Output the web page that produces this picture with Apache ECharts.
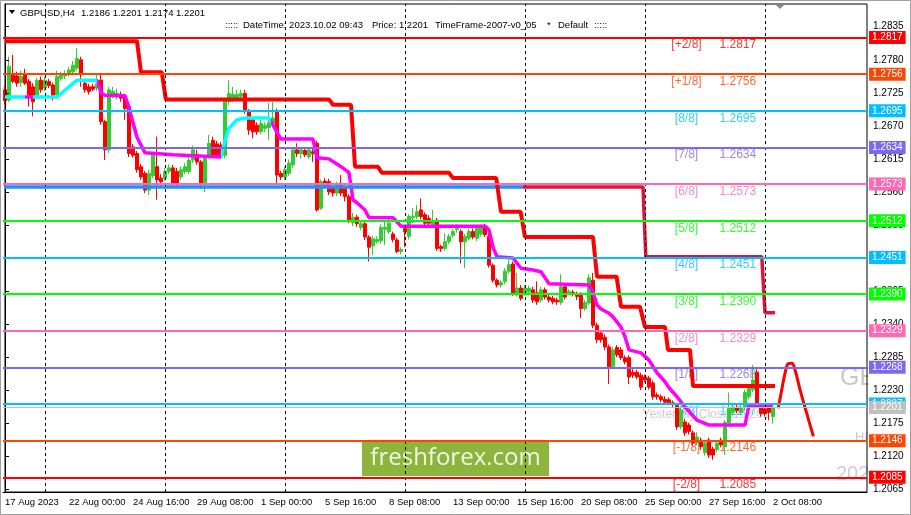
<!DOCTYPE html>
<html><head><meta charset="utf-8">
<script src="https://cdn.jsdelivr.net/npm/echarts@6/dist/echarts.min.js"></script>
<style>html,body{margin:0;padding:0;background:#fff;}#c{width:911px;height:515px;}</style>
</head><body><div id="c"></div>
<script>
// ---------- DATA ----------
const xLabels = ['17 Aug 2023','22 Aug 00:00','24 Aug 16:00','29 Aug 08:00','1 Sep 00:00','5 Sep 16:00','8 Sep 08:00','13 Sep 00:00','15 Sep 16:00','20 Sep 08:00','25 Sep 00:00','27 Sep 16:00','2 Oct 08:00'];
const yTicks = [1.2065,1.2120,1.2175,1.2230,1.2285,1.2340,1.2395,1.2450,1.2505,1.2560,1.2615,1.2670,1.2725,1.2780,1.2835];
// candles: [open, close, low, high]
const candles = [
[1.2730,1.2712,1.2705,1.2737],[1.2713,1.2769,1.2710,1.2785],[1.2757,1.2744,1.2741,1.2788],[1.2753,1.2741,1.2735,1.2760],[1.2742,1.2752,1.2735,1.2762],
[1.2755,1.2741,1.2738,1.2765],[1.2744,1.2721,1.2702,1.2748],[1.2735,1.2710,1.2686,1.2741],[1.2721,1.2746,1.2715,1.2750],[1.2746,1.2730,1.2725,1.2752],
[1.2733,1.2746,1.2728,1.2752],[1.2744,1.2737,1.2733,1.2748],[1.2738,1.2721,1.2712,1.2742],[1.2721,1.2752,1.2716,1.2762],[1.2749,1.2755,1.2745,1.2760],
[1.2753,1.2757,1.2748,1.2762],[1.2757,1.2763,1.2752,1.2768],[1.2760,1.2771,1.2755,1.2778],[1.2766,1.2782,1.2762,1.2799],[1.2780,1.2757,1.2735,1.2785],
[1.2741,1.2730,1.2725,1.2745],[1.2735,1.2727,1.2722,1.2740],[1.2735,1.2731,1.2728,1.2740],[1.2733,1.2740,1.2728,1.2755],[1.2746,1.2677,1.2672,1.2758],
[1.2677,1.2630,1.2613,1.2680],[1.2630,1.2730,1.2625,1.2735],[1.2721,1.2727,1.2716,1.2735],[1.2719,1.2724,1.2714,1.2732],[1.2722,1.2716,1.2710,1.2727],
[1.2718,1.2699,1.2680,1.2722],[1.2702,1.2624,1.2618,1.2705],[1.2635,1.2621,1.2617,1.2640],[1.2624,1.2597,1.2592,1.2628],[1.2602,1.2585,1.2580,1.2607],
[1.2591,1.2563,1.2558,1.2595],[1.2563,1.2591,1.2555,1.2597],[1.2587,1.2621,1.2583,1.2627],[1.2602,1.2580,1.2547,1.2652],[1.2583,1.2577,1.2570,1.2590],
[1.2583,1.2594,1.2578,1.2600],[1.2594,1.2600,1.2590,1.2606],[1.2600,1.2575,1.2570,1.2605],[1.2594,1.2575,1.2568,1.2600],[1.2585,1.2597,1.2580,1.2602],
[1.2594,1.2602,1.2590,1.2608],[1.2594,1.2613,1.2590,1.2618],[1.2613,1.2630,1.2608,1.2637],[1.2622,1.2610,1.2605,1.2630],[1.2610,1.2575,1.2565,1.2613],
[1.2575,1.2616,1.2560,1.2620],[1.2621,1.2641,1.2616,1.2655],[1.2646,1.2621,1.2616,1.2652],[1.2640,1.2621,1.2616,1.2645],[1.2638,1.2621,1.2616,1.2643],
[1.2621,1.2713,1.2616,1.2717],[1.2710,1.2724,1.2705,1.2746],[1.2716,1.2722,1.2710,1.2735],[1.2716,1.2722,1.2712,1.2730],[1.2719,1.2724,1.2715,1.2730],
[1.2724,1.2694,1.2690,1.2730],[1.2694,1.2663,1.2655,1.2698],[1.2680,1.2660,1.2649,1.2685],[1.2671,1.2660,1.2655,1.2676],[1.2660,1.2674,1.2656,1.2680],
[1.2666,1.2671,1.2660,1.2676],[1.2667,1.2675,1.2647,1.2708],[1.2674,1.2683,1.2670,1.2710],[1.2694,1.2588,1.2575,1.2699],[1.2591,1.2585,1.2580,1.2595],
[1.2585,1.2597,1.2580,1.2602],[1.2591,1.2608,1.2587,1.2614],[1.2605,1.2630,1.2600,1.2635],[1.2630,1.2624,1.2618,1.2641],[1.2624,1.2630,1.2616,1.2635],
[1.2629,1.2622,1.2618,1.2634],[1.2619,1.2630,1.2615,1.2634],[1.2627,1.2624,1.2610,1.2632],[1.2641,1.2530,1.2527,1.2645],[1.2533,1.2577,1.2530,1.2581],
[1.2578,1.2571,1.2566,1.2583],[1.2577,1.2560,1.2555,1.2582],[1.2566,1.2558,1.2552,1.2570],[1.2558,1.2572,1.2553,1.2577],[1.2572,1.2558,1.2553,1.2588],
[1.2566,1.2552,1.2544,1.2570],[1.2552,1.2513,1.2508,1.2556],[1.2509,1.2518,1.2503,1.2525],[1.2518,1.2507,1.2502,1.2522],[1.2501,1.2507,1.2496,1.2512],
[1.2507,1.2485,1.2480,1.2511],[1.2485,1.2468,1.2444,1.2488],[1.2470,1.2482,1.2455,1.2487],[1.2477,1.2481,1.2474,1.2486],[1.2479,1.2501,1.2474,1.2506],
[1.2498,1.2501,1.2472,1.2512],[1.2494,1.2508,1.2490,1.2515],[1.2490,1.2481,1.2476,1.2494],[1.2480,1.2461,1.2458,1.2484],[1.2461,1.2464,1.2456,1.2468],
[1.2499,1.2494,1.2468,1.2503],[1.2486,1.2519,1.2481,1.2523],[1.2517,1.2519,1.2508,1.2533],[1.2519,1.2527,1.2515,1.2538],[1.2530,1.2519,1.2514,1.2549],
[1.2522,1.2508,1.2503,1.2526],[1.2516,1.2508,1.2503,1.2521],[1.2505,1.2511,1.2500,1.2530],[1.2513,1.2466,1.2462,1.2517],[1.2469,1.2466,1.2460,1.2472],
[1.2466,1.2477,1.2462,1.2491],[1.2477,1.2486,1.2473,1.2490],[1.2488,1.2494,1.2484,1.2498],[1.2497,1.2502,1.2492,1.2506],[1.2494,1.2477,1.2441,1.2498],
[1.2477,1.2486,1.2433,1.2490],[1.2483,1.2494,1.2479,1.2499],[1.2494,1.2485,1.2481,1.2499],[1.2483,1.2500,1.2478,1.2505],[1.2490,1.2502,1.2486,1.2506],
[1.2502,1.2489,1.2485,1.2507],[1.2486,1.2438,1.2434,1.2490],[1.2438,1.2413,1.2409,1.2441],[1.2413,1.2405,1.2401,1.2416],[1.2405,1.2409,1.2401,1.2413],
[1.2411,1.2428,1.2406,1.2433],[1.2428,1.2439,1.2424,1.2447],[1.2440,1.2391,1.2387,1.2444],[1.2390,1.2400,1.2386,1.2425],[1.2400,1.2383,1.2379,1.2405],
[1.2391,1.2400,1.2387,1.2405],[1.2394,1.2400,1.2390,1.2404],[1.2397,1.2380,1.2375,1.2402],[1.2392,1.2377,1.2372,1.2411],[1.2380,1.2397,1.2376,1.2402],
[1.2397,1.2385,1.2381,1.2401],[1.2385,1.2380,1.2376,1.2390],[1.2383,1.2377,1.2373,1.2387],[1.2380,1.2377,1.2372,1.2384],[1.2376,1.2402,1.2372,1.2423],
[1.2402,1.2385,1.2381,1.2406],[1.2392,1.2394,1.2388,1.2398],[1.2393,1.2390,1.2386,1.2397],[1.2390,1.2386,1.2380,1.2394],[1.2389,1.2366,1.2350,1.2393],
[1.2366,1.2376,1.2362,1.2380],[1.2375,1.2417,1.2372,1.2423],[1.2413,1.2338,1.2333,1.2425],[1.2338,1.2314,1.2308,1.2342],[1.2325,1.2314,1.2309,1.2330],
[1.2318,1.2302,1.2297,1.2323],[1.2302,1.2269,1.2240,1.2306],[1.2269,1.2297,1.2265,1.2302],[1.2301,1.2289,1.2285,1.2305],[1.2297,1.2284,1.2280,1.2302],
[1.2284,1.2277,1.2273,1.2288],[1.2284,1.2252,1.2240,1.2288],[1.2260,1.2255,1.2250,1.2265],[1.2260,1.2252,1.2248,1.2264],[1.2255,1.2235,1.2230,1.2259],
[1.2252,1.2247,1.2243,1.2256],[1.2250,1.2235,1.2231,1.2254],[1.2242,1.2219,1.2214,1.2246],[1.2222,1.2219,1.2214,1.2226],[1.2219,1.2214,1.2210,1.2223],
[1.2215,1.2210,1.2206,1.2220],[1.2214,1.2209,1.2205,1.2218],[1.2209,1.2206,1.2202,1.2213],[1.2205,1.2169,1.2164,1.2209],[1.2169,1.2197,1.2165,1.2201],
[1.2177,1.2159,1.2154,1.2182],[1.2172,1.2161,1.2156,1.2176],[1.2159,1.2142,1.2138,1.2163],[1.2142,1.2152,1.2138,1.2160],[1.2147,1.2136,1.2131,1.2151],
[1.2126,1.2142,1.2121,1.2147],[1.2147,1.2122,1.2117,1.2151],[1.2132,1.2122,1.2114,1.2136],[1.2131,1.2142,1.2127,1.2146],[1.2147,1.2139,1.2135,1.2151],
[1.2136,1.2176,1.2122,1.2180],[1.2176,1.2201,1.2172,1.2226],[1.2193,1.2201,1.2189,1.2206],[1.2201,1.2196,1.2192,1.2206],[1.2193,1.2201,1.2189,1.2206],
[1.2201,1.2226,1.2197,1.2231],[1.2219,1.2234,1.2215,1.2239],[1.2231,1.2247,1.2227,1.2272],[1.2260,1.2205,1.2200,1.2265],[1.2201,1.2191,1.2186,1.2206],
[1.2199,1.2191,1.2186,1.2203],[1.2201,1.2193,1.2180,1.2205],[1.2186,1.2201,1.2174,1.2201]
];
// moving line (cyan rising / magenta falling): [barIndex, price]
const maPoints = [[0,1.2718],[13,1.2718],[16,1.2735],[18,1.2746],[23,1.2746],[24,1.2725],[25,1.2721],[30,1.2720],[31,1.2700],[33,1.2651],[35,1.2625],[42,1.2622],[54,1.2618],[55,1.2646],[56,1.2666],[58,1.2680],[60,1.2683],[66,1.2683],[67,1.2671],[69,1.2648],[77,1.2648],[78,1.2617],[81,1.2615],[84,1.2602],[86,1.2592],[87,1.2547],[88,1.2542],[90,1.2530],[91,1.2517],[97,1.2517],[99,1.2503],[120,1.2503],[121,1.2497],[122,1.2468],[123,1.2452],[127,1.2450],[129,1.2433],[132,1.2430],[134,1.2427],[136,1.2407],[146,1.2405],[147,1.2393],[148,1.2372],[149,1.2365],[151,1.2358],[152,1.2352],[154,1.2335],[155,1.2319],[156,1.2297],[159,1.2292],[161,1.2280],[163,1.2259],[165,1.2244],[166,1.2234],[168,1.2219],[170,1.2202],[173,1.2180],[176,1.2172],[185,1.2172],[186,1.2205],[192,1.2205]];
const maRising = [[0,5],[7,23],[54,66.5]];
const redStep = [[0,1.2811],[33,1.2811],[34,1.2759],[39.2,1.2759],[40.2,1.2714],[81,1.2714],[82,1.2705],[86.5,1.2705],[87.5,1.2602],[93.2,1.2602],[94.2,1.2592],[111,1.2592],[112,1.2583],[122.8,1.2583],[124,1.2527],[128.9,1.2527],[130,1.2485],[147,1.2485],[148,1.2419],[152.9,1.2419],[154,1.2369],[158.75,1.2369],[160,1.2335],[165,1.2335],[165.75,1.2297],[171.25,1.2297],[172,1.2237],[192.5,1.2237]];
const blueStep = [[0,1.2568],[129.5,1.2568]];
const crimsonStep = [[129.5,1.2568],[159.5,1.2568],[160.2,1.2452],[189.2,1.2452],[190,1.2359],[192.5,1.2359]];
const projection = [[193.3,1.2200],[194.2,1.2231],[195,1.2258],[195.8,1.2274],[196.7,1.2275],[197.5,1.2264],[198.75,1.2231],[200.4,1.2192],[202.1,1.2153]];
const murreyTags = ['[-2/8]','[-1/8]','[0/8]','[1/8]','[2/8]','[3/8]','[4/8]','[5/8]','[6/8]','[7/8]','[8/8]','[+1/8]','[+2/8]'];
const murreyLevels = [1.2085,1.2146,1.2207,1.2268,1.2329,1.2390,1.2451,1.2512,1.2573,1.2634,1.2695,1.2756,1.2817];
const murreyColors = ['#FF0000','#FF4500','#00BFFF','#7B68EE','#FF69B4','#00FF00','#00BFFF','#00FF00','#FF69B4','#7B68EE','#00BFFF','#FF4500','#FF0000'];
const yesterdayClose = 1.2201;
const gridBars = [10,40,70,100,130,160,190];

// ---------- CHART ----------
const N = 216;
const categories = Array.from({length: N}, (_, i) => String(i));
const FONT = 'Liberation Sans, Arial, sans-serif';
const HF = '9.5px "Liberation Sans", Arial';
const labelEvery = 16;
const showLbl = (i) => i % labelEvery === 0 && (i / labelEvery) < xLabels.length;

const markData = murreyLevels.map((v, k) => ({
  yAxis: v,
  lineStyle: {color: murreyColors[k], width: 2, type: 'solid'},
  label: {backgroundColor: murreyColors[k]}
}));
markData.push({yAxis: yesterdayClose, lineStyle: {color: '#C0C0C0', width: 1, type: 'solid'}, label: {backgroundColor: '#C0C0C0'}});

const textData = murreyLevels.map((v, k) => ({
  value: [165.5, v],
  label: {color: murreyColors[k], formatter: '{t|' + murreyTags[k] + '}{v|' + v.toFixed(4) + '}'}
}));
textData.push({value: [191.25, yesterdayClose], label: {color: '#BEBEBE', formatter: '{y|Yesterday Close 1.2201}', align: 'right'}});

const chart = echarts.init(document.getElementById('c'), null, {renderer: 'canvas'});
chart.setOption({
  animation: false,
  backgroundColor: '#fff',
  grid: {left: 3, right: 44, top: 4, bottom: 23, containLabel: false},
  xAxis: [{
    type: 'category', data: categories, boundaryGap: true, z: 3,
    axisLine: {lineStyle: {color: '#000', width: 1}},
    axisTick: {alignWithLabel: true, interval: showLbl, length: 4, lineStyle: {color: '#000'}},
    axisLabel: {interval: showLbl, formatter: (v, i) => xLabels[i / labelEvery] || '', align: 'left', margin: 5, fontSize: 9.5, color: '#000', fontFamily: FONT},
    splitLine: {show: false}
  }, {
    type: 'value', min: -0.5, max: N - 0.5, show: false
  }],
  yAxis: [{
    type: 'value', position: 'right', min: 1.20605, max: 1.28728, z: 3,
    axisLine: {show: true, lineStyle: {color: '#000'}},
    axisTick: {show: true, customValues: yTicks, length: 4, lineStyle: {color: '#000'}},
    axisLabel: {customValues: yTicks, formatter: (v) => v.toFixed(4), fontSize: 10, color: '#000', margin: 6, fontFamily: FONT},
    splitLine: {show: false}
  }],
  visualMap: [{
    type: 'piecewise', show: false, seriesIndex: 3, dimension: 0,
    pieces: [
      {lt: maRising[0][1], color: '#00FFFF'},
      {gte: maRising[0][1], lt: maRising[1][0], color: '#FF00FF'},
      {gte: maRising[1][0], lt: maRising[1][1], color: '#00FFFF'},
      {gte: maRising[1][1], lt: maRising[2][0], color: '#FF00FF'},
      {gte: maRising[2][0], lt: maRising[2][1], color: '#00FFFF'},
      {gte: maRising[2][1], color: '#FF00FF'}
    ]
  }],
  series: [
    { // 0 grid lines
      type: 'line', xAxisIndex: 1, data: [], z: 1, silent: true,
      markLine: {symbol: ['none', 'none'], silent: true, precision: 4, label: {show: false},
        lineStyle: {color: '#000', type: [3, 3], width: 1},
        data: gridBars.map(b => ({xAxis: b}))}
    },
    { // 1 murrey texts
      type: 'scatter', xAxisIndex: 1, data: textData,
      symbol: 'rect', symbolSize: 1, itemStyle: {color: 'rgba(0,0,0,0)'}, z: 1, silent: true,
      label: {show: true, position: [0, 2], align: 'left', verticalAlign: 'top', fontSize: 12, fontFamily: FONT,
        rich: {t: {width: 40, align: 'right', fontSize: 12, fontFamily: FONT},
               v: {padding: [0, 0, 0, 13], fontSize: 12, fontFamily: FONT},
               y: {fontSize: 12, fontFamily: FONT, color: '#BEBEBE'}}}
    },
    { // 2 candles
      type: 'candlestick', xAxisIndex: 0, data: candles, barWidth: 3, z: 2,
      itemStyle: {color: '#32CD32', color0: '#FF0000', borderColor: '#32CD32', borderColor0: '#FF0000', borderWidth: 1}
    },
    { // 3 moving line
      type: 'line', xAxisIndex: 1, data: maPoints, showSymbol: false, z: 4,
      lineStyle: {width: 3.5}
    },
    { type: 'line', xAxisIndex: 1, data: blueStep, showSymbol: false, z: 4, lineStyle: {width: 3.5, color: '#1E90FF'}, itemStyle: {color: '#1E90FF'} },
    { type: 'line', xAxisIndex: 1, data: crimsonStep, showSymbol: false, z: 4, lineStyle: {width: 3.5, color: '#DC143C'}, itemStyle: {color: '#DC143C'} },
    { type: 'line', xAxisIndex: 1, data: redStep, showSymbol: false, z: 4, lineStyle: {width: 4, color: '#FF0000'}, itemStyle: {color: '#FF0000'} },
    { type: 'line', xAxisIndex: 1, data: projection, showSymbol: false, smooth: 0.4, z: 4, lineStyle: {width: 3, color: '#FF0000'}, itemStyle: {color: '#FF0000'} },
    { // murrey lines with price boxes
      type: 'line', xAxisIndex: 1, data: [], z: 6, silent: true,
      markLine: {symbol: ['none', 'none'], silent: true, precision: 4,
        label: {show: true, position: 'end', distance: 2, formatter: (p) => Number(p.value).toFixed(4), color: '#fff', fontSize: 10, fontFamily: FONT, padding: [1, 3, 0, 3], lineHeight: 12},
        data: markData}
    }
  ],
  graphic: [
    {type: 'rect', z: 0, shape: {x: 362, y: 441, width: 187, height: 35}, style: {fill: '#8DB43F'}},
    {type: 'text', z: 0, x: 455.5, y: 458, style: {text: 'freshforex.com', fill: '#F2F7E2', font: '24px "Open Sans", sans-serif', textAlign: 'center', textVerticalAlign: 'middle'}},
    {type: 'text', z: 0, x: 840, y: 378, style: {text: 'GBPUSD', fill: '#C8C8C8', font: '25px "Liberation Sans", Arial', textVerticalAlign: 'middle'}},
    {type: 'text', z: 0, x: 855, y: 437, style: {text: 'HIGH', fill: '#C8C8D8', font: '13px "Liberation Sans", Arial', textVerticalAlign: 'middle'}},
    {type: 'text', z: 0, x: 836, y: 474, style: {text: '2023.10.02', fill: '#D0D0D0', font: '20px "Liberation Sans", Arial', textVerticalAlign: 'middle'}},
    {type: 'rect', z: 1, shape: {x: 868.5, y: 0, width: 43, height: 515}, style: {fill: '#fff'}},
    {type: 'rect', z: 1, shape: {x: 5, y: 4, width: 862, height: 488}, style: {fill: 'none', stroke: '#000', lineWidth: 1}},
    {type: 'rect', z: 1, shape: {x: 0.5, y: 0.5, width: 910, height: 514}, style: {fill: 'none', stroke: '#A0A0A0', lineWidth: 1}},
    {type: 'polygon', z: 1, shape: {points: [[9, 10], [15, 10], [12, 14]]}, style: {fill: '#000'}},
    {type: 'polygon', z: 1, shape: {points: [[776, 5], [784, 5], [780, 9]]}, style: {fill: '#888'}},
    {type: 'text', z: 1, x: 20, y: 13, style: {text: 'GBPUSD,H4', fill: '#000', font: HF, textVerticalAlign: 'middle'}},
    {type: 'text', z: 1, x: 81, y: 13, style: {text: '1.2186 1.2201 1.2174 1.2201', fill: '#000', font: HF, textVerticalAlign: 'middle'}},
    {type: 'text', z: 1, x: 225, y: 25, style: {text: ':::::', fill: '#000', font: HF, textVerticalAlign: 'middle'}},
    {type: 'text', z: 1, x: 243, y: 25, style: {text: 'DateTime: 2023.10.02 09:43', fill: '#000', font: HF, textVerticalAlign: 'middle'}},
    {type: 'text', z: 1, x: 372, y: 25, style: {text: 'Price: 1.2201', fill: '#000', font: HF, textVerticalAlign: 'middle'}},
    {type: 'text', z: 1, x: 435, y: 25, style: {text: 'TimeFrame-2007-v0_05', fill: '#000', font: HF, textVerticalAlign: 'middle'}},
    {type: 'text', z: 1, x: 547, y: 25, style: {text: '*', fill: '#000', font: HF, textVerticalAlign: 'middle'}},
    {type: 'text', z: 1, x: 558, y: 25, style: {text: 'Default', fill: '#000', font: HF, textVerticalAlign: 'middle'}},
    {type: 'text', z: 1, x: 594, y: 25, style: {text: ':::::', fill: '#000', font: HF, textVerticalAlign: 'middle'}}
  ]
});
</script></body></html>
